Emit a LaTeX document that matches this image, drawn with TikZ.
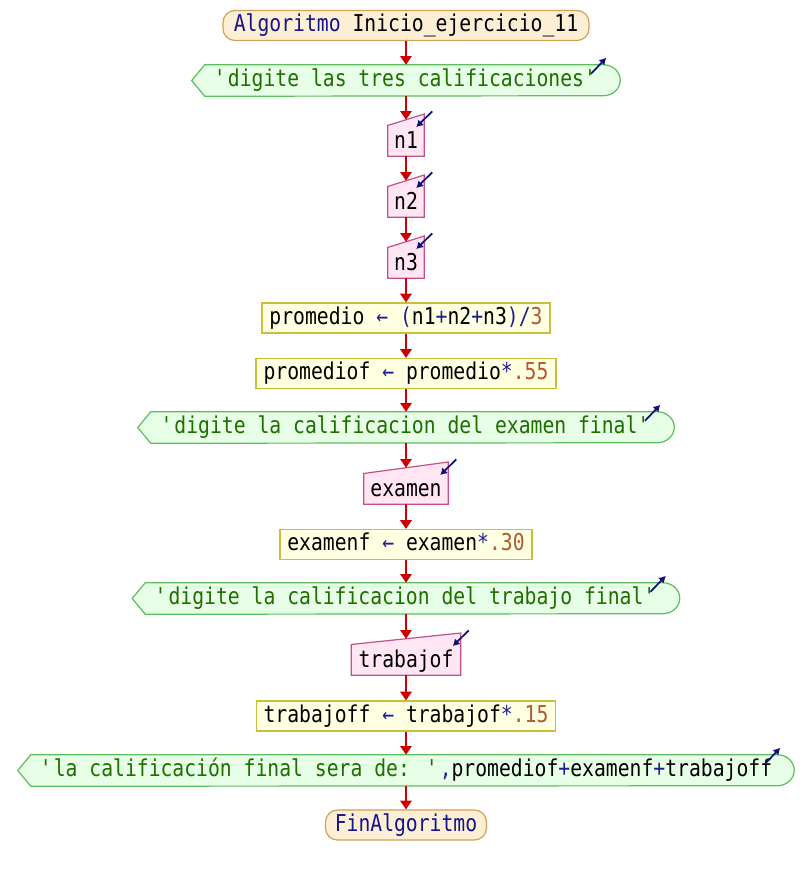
\documentclass[tikz,border=0pt]{standalone}
\usepackage{fontspec}
\usetikzlibrary{arrows.meta,backgrounds}
\newfontfamily\psfont[FakeStretch=0.85]{DejaVu Sans Mono}

\definecolor{termfill}{HTML}{FDEFD6}
\definecolor{termline}{HTML}{D4A053}
\definecolor{outfill}{HTML}{E6FFE6}
\definecolor{outline}{HTML}{5DBE5D}
\definecolor{infill}{HTML}{FFE6F2}
\definecolor{inline}{HTML}{C2508A}
\definecolor{asgfill}{HTML}{FFFFE1}
\definecolor{asgline}{HTML}{C8C03C}
\definecolor{flowred}{HTML}{CC0000}
\definecolor{kwcol}{HTML}{14148C}
\definecolor{strcol}{HTML}{1E6E00}
\definecolor{numcol}{HTML}{B05A30}
\definecolor{opcol}{HTML}{1E1E96}
\definecolor{iconcol}{HTML}{10107A}

\newcommand{\pkw}[1]{\textcolor{kwcol}{#1}}
\newcommand{\pstr}[1]{\textcolor{strcol}{#1}}
\newcommand{\pnum}[1]{\textcolor{numcol}{#1}}
\newcommand{\pop}[1]{\textcolor{opcol}{#1}}
\newcommand{\q}{\textquotesingle}

% output (display) shape: pointed left end, rounded right end, with a write icon
\newcommand{\drawout}[1]{%
  \path[outbox] (#1.west) -- ([xshift=9.75pt]#1.north west)
    -- ([xshift=-12.75pt]#1.north east)
    arc[start angle=90,end angle=-90,x radius=12.75pt,y radius=11.625pt]
    -- ([xshift=9.75pt]#1.south west) -- cycle;}
\newcommand{\outicon}[1]{%
  \draw[icon] ([xshift=-22pt,yshift=5pt]#1.east) -- ([xshift=-10.5pt,yshift=17pt]#1.east);}
% input (read) shape: slanted top edge, with a read icon
\newcommand{\drawin}[1]{%
  \path[inbox] ([yshift=-4.3pt]#1.north west) -- ([yshift=4.3pt]#1.north east)
    -- (#1.south east) -- (#1.south west) -- cycle;}
\newcommand{\inicon}[1]{%
  \draw[icon] ([xshift=6pt,yshift=6.3pt]#1.north east) -- ([xshift=-6pt,yshift=-5.5pt]#1.north east);}

\begin{document}
\begin{tikzpicture}[x=0.75pt,y=-0.75pt,
  base/.style={font=\psfont\fontsize{17.4}{20}\selectfont, inner sep=0pt,
    text height=12.5pt, text depth=3.5pt},
  term/.style={base, draw=termline, fill=termfill, line width=0.9pt,
    rounded corners=9pt, minimum height=22.5pt, minimum width=#1},
  assign/.style={base, draw=asgline, fill=asgfill, line width=0.9pt,
    minimum height=22.5pt, minimum width=#1},
  outp/.style={base, minimum height=23.25pt, minimum width=#1},
  inp/.style={base, text height=17.5pt, text depth=2.5pt,
    minimum height=27pt, minimum width=#1},
  outbox/.style={draw=outline, fill=outfill, line width=0.9pt},
  inbox/.style={draw=inline, fill=infill, line width=0.9pt},
  flow/.style={draw=flowred, line width=1.5pt, -{Triangle[width=8.5pt,length=6.5pt]}},
  icon/.style={draw=iconcol, line width=1.3pt, -{Latex[length=5pt,width=6pt]}}]

\begin{scope}[on background layer]
  \fill[white] (0,0) rectangle (812,875);
\end{scope}
\useasboundingbox (0,0) rectangle (812,875);

\node[term=274.5pt] (start) at (406,25.5) {\pkw{Algoritmo} Inicio\_ejercicio\_11};
\node[outp=321pt] (o1) at (406,80.5) {\pstr{\q digite las tres calificaciones\q}};
\node[inp=27pt] (n1) at (406,138) {n1};
\node[inp=27pt] (n2) at (406,199) {n2};
\node[inp=27pt] (n3) at (406,260) {n3};
\node[assign=216pt] (a1) at (406,318) {promedio \pop{← (}n1\pop{+}n2\pop{+}n3\pop{)/}\pnum{3}};
\node[assign=225pt] (a2) at (406,373.5) {promediof \pop{←} promedio\pop{*}\pnum{.55}};
\node[outp=402pt] (o2) at (406,427.5) {\pstr{\q digite la calificacion del examen final\q}};
\node[inp=63pt] (n4) at (406,486) {examen};
\node[assign=189pt] (a3) at (406,544.5) {examenf \pop{←} examen\pop{*}\pnum{.30}};
\node[outp=410.25pt] (o3) at (406,598.5) {\pstr{\q digite la calificacion del trabajo final\q}};
\node[inp=81.75pt] (n5) at (406,657) {trabajof};
\node[assign=224.25pt] (a4) at (406,716) {trabajoff \pop{←} trabajof\pop{*}\pnum{.15}};
\node[outp=582pt] (o4) at (406,770.5) {\pstr{\q la calificación final sera de: \q}\pop{,}promediof\pop{+}examenf\pop{+}trabajoff};
\node[term=120.75pt] (fin) at (406,825) {\pkw{FinAlgoritmo}};

\begin{scope}[on background layer]
  \drawout{o1} \drawout{o2} \drawout{o3} \drawout{o4}
  \drawin{n1} \drawin{n2} \drawin{n3} \drawin{n4} \drawin{n5}
\end{scope}

\outicon{o1} \outicon{o2} \outicon{o3} \outicon{o4}
\inicon{n1} \inicon{n2} \inicon{n3} \inicon{n4} \inicon{n5}

\draw[flow] (start) -- (o1);
\draw[flow] (o1) -- (n1);
\draw[flow] (n1) -- (n2);
\draw[flow] (n2) -- (n3);
\draw[flow] (n3) -- (a1);
\draw[flow] (a1) -- (a2);
\draw[flow] (a2) -- (o2);
\draw[flow] (o2) -- (n4);
\draw[flow] (n4) -- (a3);
\draw[flow] (a3) -- (o3);
\draw[flow] (o3) -- (n5);
\draw[flow] (n5) -- (a4);
\draw[flow] (a4) -- (o4);
\draw[flow] (o4) -- (fin);
\end{tikzpicture}
\end{document}
